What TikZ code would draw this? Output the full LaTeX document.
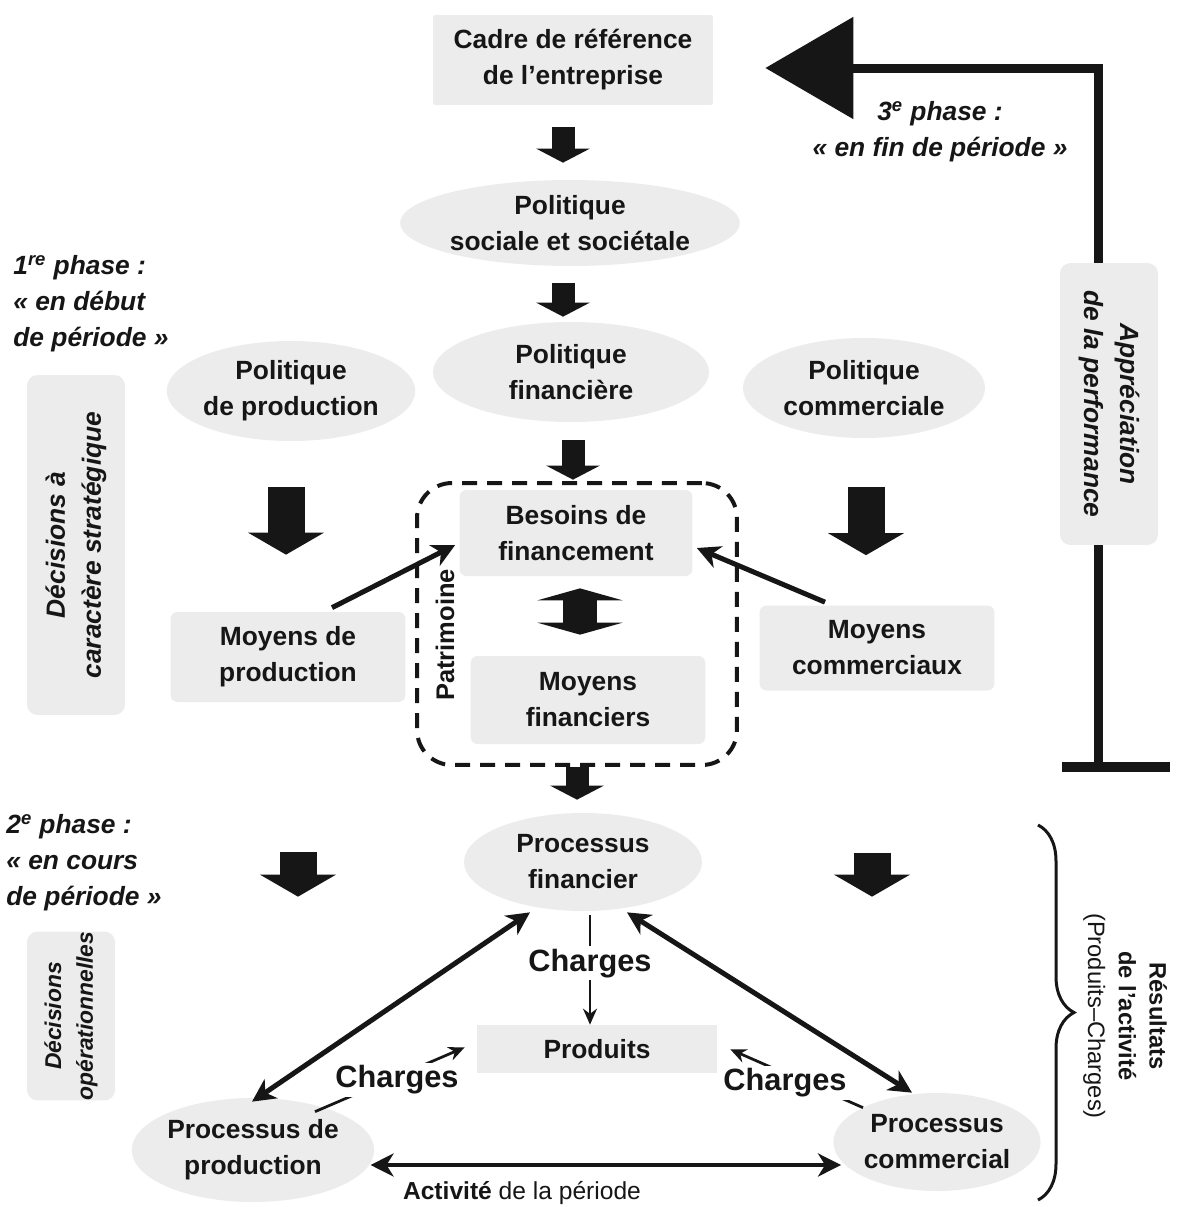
\documentclass[tikz,border=0pt]{standalone}
\usepackage{fontspec}
\setmainfont{Liberation Sans}
\usetikzlibrary{shapes.geometric, arrows.meta, calc, decorations.pathreplacing}
\definecolor{panel}{RGB}{236,236,236}
\definecolor{ink}{RGB}{22,22,22}
\newcommand\labelsize{\fontsize{15}{20.5}\selectfont}
\newcommand\chargesize{\fontsize{17.5}{21}\selectfont}
\newcommand\smallsize{\fontsize{13.5}{17.5}\selectfont}

\begin{document}
\begin{tikzpicture}[x=0.02cm, y=-0.02cm,
  every node/.style={text=ink},
  box/.style={fill=panel, rounded corners=4pt, align=center, inner sep=0pt, font=\labelsize\bfseries},
  oval/.style={ellipse, fill=panel, align=center, inner sep=0pt, font=\labelsize\bfseries},
  sidebox/.style={fill=panel, rounded corners=6pt, align=center, inner sep=0pt, font=\labelsize\bfseries\itshape},
  phase/.style={align=left, inner sep=0pt, font=\labelsize\bfseries\itshape},
  chargelabel/.style={fill=white, inner sep=1.5pt, font=\chargesize\bfseries},
  smallblock/.style={draw=ink, line width=0.46cm, -{Triangle[length=0.28cm, width=1.06cm]}},
  bigblock/.style={draw=ink, line width=0.74cm, -{Triangle[length=0.44cm, width=1.5cm]}},
  conn/.style={draw=ink, line width=0.1cm},
  fineconn/.style={draw=ink, line width=0.055cm, -{Stealth[length=0.32cm, width=0.28cm]}},
  >={Stealth[length=0.46cm, width=0.46cm, inset=0.14cm]}
]
\fill[white] (0,0) rectangle (1178,1207);
\useasboundingbox (0,0) rectangle (1178,1207);

% dashed frame of the balance-sheet block
\node[draw=ink, line width=0.08cm, dash pattern=on 0.3cm off 0.2cm, rounded corners=0.7cm,
      minimum width=6.4cm, minimum height=5.64cm] (patr) at (577,624) {};
\node[rotate=90, inner sep=0pt, font=\fontsize{14.5}{17}\selectfont\bfseries] (patlabel) at (445,635) {Patrimoine};

% main nodes
\node[box, rounded corners=1pt, minimum width=5.6cm, minimum height=1.8cm] (cadre) at (573,60) {Cadre de référence\\de l'entreprise};
\node[oval, minimum width=5.64cm, minimum height=1.72cm] (soc) at (570,223) {Politique\\sociale et sociétale};
\node[oval, minimum width=5.52cm, minimum height=2.0cm] (fin) at (571,372) {Politique\\financière};
\node[oval, minimum width=4.64cm, minimum height=2.0cm] (prod) at (291,391) {Politique\\de production};
\node[oval, minimum width=4.84cm, minimum height=2.0cm] (com) at (864,388) {Politique\\commerciale};
\node[box, minimum width=4.66cm, minimum height=1.72cm] (besoins) at (576,533) {Besoins de\\financement};
\node[box, minimum width=4.7cm, minimum height=1.76cm] (moyfin) at (588,700) {Moyens\\financiers};
\node[box, minimum width=4.7cm, minimum height=1.8cm] (moyprod) at (288,657) {Moyens de\\production};
\node[box, minimum width=4.7cm, minimum height=1.7cm] (moycom) at (877,648) {Moyens\\commerciaux};
\node[oval, minimum width=4.76cm, minimum height=1.96cm] (pfin) at (583,862) {Processus\\financier};
\node[box, rounded corners=0pt, minimum width=4.8cm, minimum height=0.96cm] (produits) at (597,1049) {Produits};
\node[oval, minimum width=4.32cm, minimum height=2.08cm] (pprod) at (253,1150) {Processus de\\production};
\node[oval, minimum width=3.8cm, minimum height=1.96cm] (pcom) at (937,1142) {Processus\\commercial};

% side panels (rotated text)
\node[sidebox, rotate=90, minimum width=6.8cm, minimum height=1.96cm] (strat) at (76,545) {Décisions à\\caractère stratégique};
\node[sidebox, rotate=90, minimum width=3.36cm, minimum height=1.76cm,
      font=\fontsize{13}{18}\selectfont\bfseries\itshape] (oper) at (71,1016) {Décisions\\opérationnelles};
\node[sidebox, rotate=-90, minimum width=5.64cm, minimum height=1.96cm] (appr) at (1109,404) {Appréciation\\de la performance};

% phase captions
\node[phase, anchor=west] (ph1) at (13,304) {1\textsuperscript{re} phase :\\«~en début\\de période~»};
\node[phase, anchor=west] (ph2) at (6,863) {2\textsuperscript{e} phase :\\«~en cours\\de période~»};
\node[phase, align=center] (ph3) at (940,132) {3\textsuperscript{e} phase :\\«~en fin de période~»};

% block arrows down the middle column
\draw[smallblock] ($(cadre.south)+(-10,22)$) -- ($(soc.north)+(-7,-17)$);
\draw[smallblock] ($(soc.south)+(-7,17)$) -- ($(fin.north)+(-8,-5)$);
\draw[smallblock] ($(fin.south)+(2,18)$) -- ($(besoins.north)+(-3,-10)$);
\draw[smallblock] (patr.south) -- ($(pfin.north)+(-6,-13)$);
\draw[draw=ink, line width=0.68cm, {Triangle[length=0.24cm, width=1.7cm]}-{Triangle[length=0.24cm, width=1.7cm]}]
  ($(besoins.south)+(4,12)$) -- ($(moyfin.north)+(-8,-21)$);

% block arrows of the side columns
\draw[bigblock] ($(prod.south)+(-5,46)$) -- ($(moyprod.north)+(-2,-57)$);
\draw[bigblock] ($(com.south)+(2,49)$) -- ($(moycom.north)+(-11,-50)$);
\draw[bigblock] ($(moyprod.south)+(10,150)$) -- ($(pprod.north)+(45,-201)$);
\draw[bigblock] ($(moycom.south)+(-5,162)$) -- ($(pcom.north)+(-65,-196)$);

% means feeding the financing needs
\draw[conn, ->] ($(moyprod.north)+(44,-4)$) -- ($(besoins.west)+(-4,12)$);
\draw[conn, ->] ($(moycom.north)+(-52,-3)$) -- ($(besoins.east)+(4,15)$);

% operating cycle
\draw[conn, <->] ($(pfin.south)+(-53,1)$) -- ($(pprod.north)+(-1,4)$);
\draw[conn, <->] ($(pfin.south)+(44,1)$) -- ($(pcom.north)+(-25,0)$);
\draw[conn, line width=0.08cm, <->] ($(pprod.east)+(-4,15)$) -- ($(pcom.west)+(8,23)$);
\node[font=\fontsize{14}{17}\selectfont] (act) at (522,1193) {\textbf{Activité} de la période};

% charges flowing to products
\draw[fineconn, line width=0.04cm] ($(pfin.south)+(7,4)$) --
  node[chargelabel, pos=0.44] (chM) {Charges} ($(produits.north)+(-7,0)$);
\draw[fineconn] ($(pprod.north)+(62,14)$) -- ($(produits.south west)+(-12,-26)$);
\draw[fineconn] ($(pcom.north)+(-74,15)$) -- ($(produits.south east)+(13,-24)$);
\node[chargelabel] (chL) at (397,1080) {Charges};
\node[chargelabel] (chR) at (785,1083) {Charges};

% result brace
\draw[draw=ink, line width=0.06cm, decorate, decoration={brace, amplitude=0.72cm, aspect=0.5}]
  (1038,825) -- (1038,1200);
\node[rotate=-90, align=center, inner sep=0pt, font=\smallsize] (res) at (1125,1016)
  {\textbf{Résultats}\\\textbf{de l'activité}\\(Produits\textendash Charges)};

% feedback loop (rotated panel: west = top, east = bottom)
\draw[draw=ink, line width=0.18cm, -{Triangle[length=1.76cm, width=2cm]}]
  ($(appr.west)+(-11,0)$) |- ($(cadre.east)+(52,8)$);
\draw[draw=ink, line width=0.18cm] ($(appr.east)+(-11,0)$) -- ($(appr.east)+(-11,222)$) coordinate (tfoot);
\draw[draw=ink, line width=0.2cm] ($(tfoot)+(-36,0)$) -- ($(tfoot)+(72,0)$);
\end{tikzpicture}
\end{document}
